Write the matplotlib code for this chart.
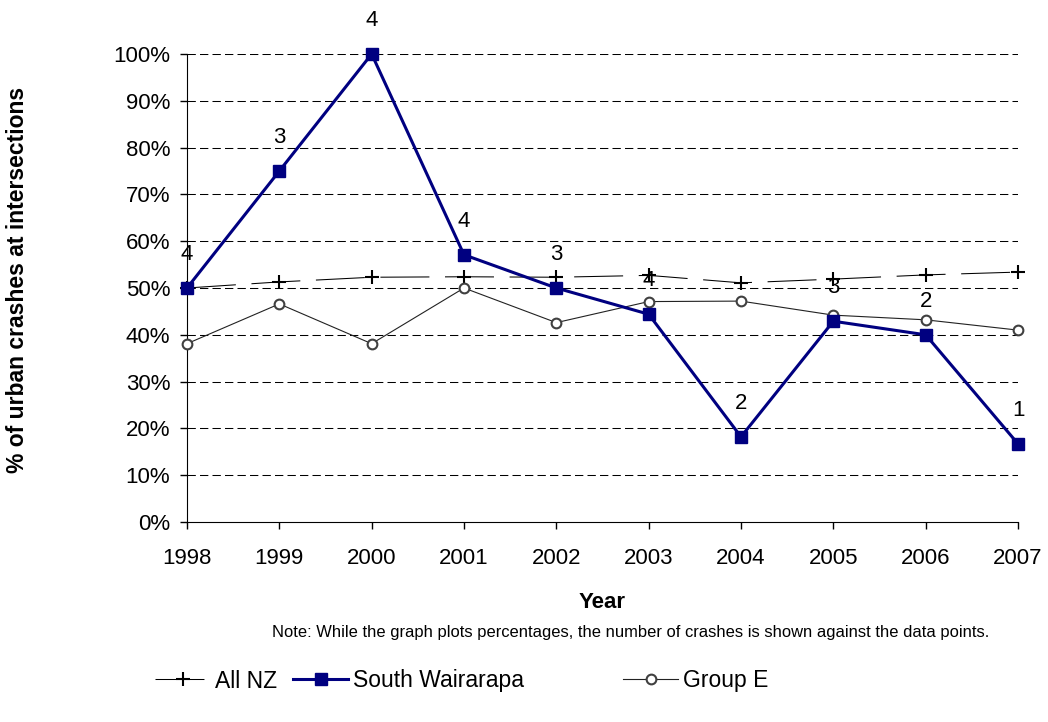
import numpy as np
import matplotlib.pyplot as plt
from matplotlib.lines import Line2D

plt.rcParams['font.family'] = ['Liberation Sans', 'DejaVu Sans']

years = [1998, 1999, 2000, 2001, 2002, 2003, 2004, 2005, 2006, 2007]
all_nz = [50.0, 51.3, 52.3, 52.4, 52.3, 52.7, 51.1, 51.9, 52.8, 53.4]
south_wairarapa = [50.0, 75.0, 100.0, 57.1, 50.0, 44.4, 18.2, 42.9, 40.0, 16.7]
group_e = [38.1, 46.6, 38.1, 50.0, 42.6, 47.1, 47.2, 44.2, 43.2, 41.0]
crash_counts = [4, 3, 4, 4, 3, 4, 2, 3, 2, 1]

fig = plt.figure(figsize=(10.48, 7.22), dpi=100)
ax = fig.add_axes([187/1048, 1-522/722, (1018-187)/1048, (522-54)/722])

ax.set_xlim(1998, 2007)
ax.set_ylim(0, 100)
ax.set_yticks(np.arange(0, 101, 10))
ax.set_yticklabels([f"{v}%" for v in range(0, 101, 10)])
ax.set_xticks(years)
ax.tick_params(axis='both', labelsize=16, direction='out', length=5, width=1)
ax.tick_params(axis='y', pad=7)
ax.tick_params(axis='x', pad=14)
for v in range(10, 101, 10):
    ax.axhline(v, color='black', lw=0.75, ls=(0, (8, 4)), zorder=1)
for s in ['top', 'right']:
    ax.spines[s].set_visible(False)

nz_style = dict(color='black', lw=0.75, ls=(0, (47, 15)), marker='+', markersize=10, mew=1.5)
sw_style = dict(color='#000080', lw=2.2, marker='s', markersize=8)
ge_style = dict(color='#222222', lw=0.8, marker='o', markersize=7, mfc='white', mec='#404040', mew=1.5)

ax.plot(years, all_nz, clip_on=False, zorder=3, **nz_style)
ax.plot(years, group_e, clip_on=False, zorder=4, **ge_style)
ax.plot(years, south_wairarapa, clip_on=False, zorder=5, **sw_style)

for x, y, n in zip(years, south_wairarapa, crash_counts):
    ax.annotate(str(n), (x, y), xytext=(0, 24), textcoords='offset points',
                ha='center', va='center', fontsize=16, annotation_clip=False)

fig.text(18/1048, 1-280/722, '% of urban crashes at intersections', rotation=90,
         ha='center', va='center', fontsize=16.5, fontweight='bold')
fig.text(602/1048, 1-603/722, 'Year', ha='center', va='center', fontsize=16, fontweight='bold')
fig.text(631/1048, 1-632/722,
         'Note: While the graph plots percentages, the number of crashes is shown against the data points.',
         ha='center', va='center', fontsize=11.9)

entries = [(155, 'All NZ', nz_style), (293, 'South Wairarapa', sw_style), (623, 'Group E', ge_style)]
for xpos, label, st in entries:
    h = Line2D([], [], **st)
    fig.legend(handles=[h], labels=[label], loc='center left', bbox_to_anchor=(xpos/1048, 1-681/722),
               frameon=False, fontsize=16.5, handlelength=2.4, handletextpad=0.2, borderpad=0,
               borderaxespad=0)

fig.savefig('out.png', dpi=100)
